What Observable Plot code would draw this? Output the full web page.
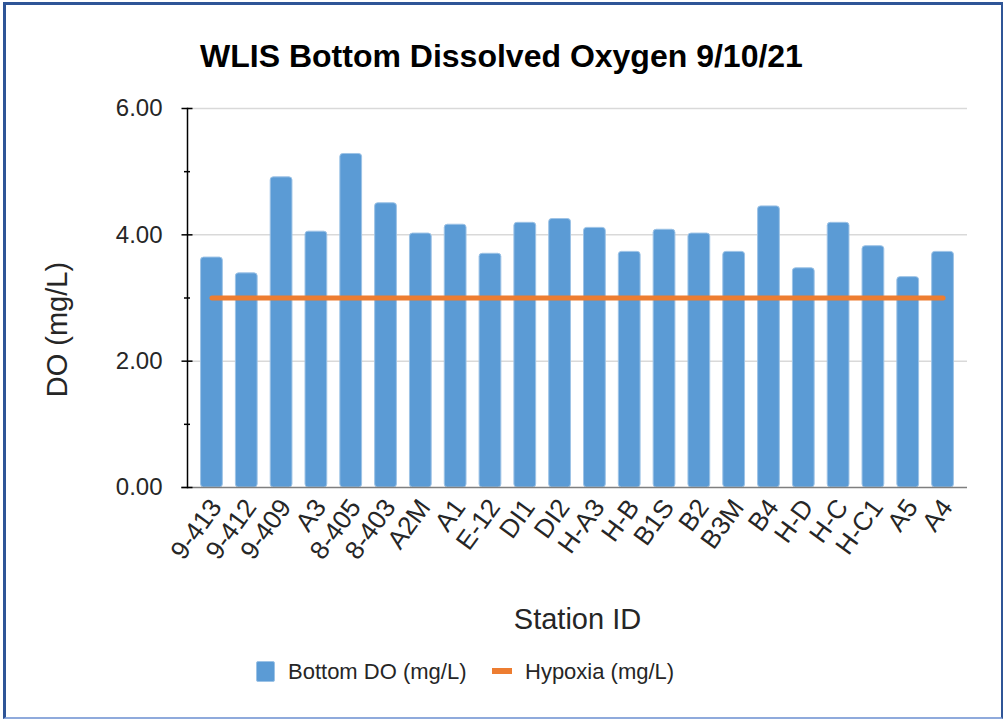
<!DOCTYPE html>
<html><head><meta charset="utf-8">
<script src="https://cdn.jsdelivr.net/npm/d3@7"></script>
<script src="https://cdn.jsdelivr.net/npm/@observablehq/plot@0.6"></script>
<style>
body{margin:0;background:#fff;font-family:"Liberation Sans",Arial,sans-serif;color:#222;}
#page{position:relative;width:1003px;height:719px;overflow:hidden;background:#fff;}
#frame{position:absolute;left:3px;top:2px;width:1000px;height:717px;box-sizing:border-box;border-left:3px solid #2F5597;border-top:3px solid #2F5597;border-right:2px solid #2F5597;border-bottom:2px solid #8FAADC;pointer-events:none;}
#title{position:absolute;left:0;top:40px;width:1003px;text-align:center;font-size:32px;line-height:32px;font-weight:bold;color:#000;white-space:nowrap;}
#chart{position:absolute;left:0;top:90px;}
.lg{position:absolute;font-size:22px;line-height:22px;color:#262626;white-space:nowrap;}
.sw{position:absolute;}
</style></head>
<body><div id="page">
<div id="title">WLIS Bottom Dissolved Oxygen 9/10/21</div>
<div id="chart"></div>
<div class="sw" style="left:256px;top:661px;width:19px;height:21px;background:#5B9BD5;border-radius:2px;box-sizing:border-box;border:1px solid #9DC3E6;"></div>
<div class="lg" style="left:288px;top:661px;">Bottom DO (mg/L)</div>
<div class="sw" style="left:492px;top:668px;width:20px;height:6px;background:#ED7D31;"></div>
<div class="lg" style="left:525px;top:661px;">Hypoxia (mg/L)</div>
<div id="frame"></div>
</div>
<script>
const stations = ["9-413","9-412","9-409","A3","8-405","8-403","A2M","A1","E-12","DI1","DI2","H-A3","H-B","B1S","B2","B3M","B4","H-D","H-C","H-C1","A5","A4"];
const bottomDO = [3.64,3.39,4.91,4.05,5.28,4.50,4.02,4.16,3.70,4.19,4.25,4.11,3.73,4.08,4.02,3.73,4.45,3.47,4.19,3.82,3.33,3.73];
const hypoxia = [3.00,3.00,3.00,3.00,3.00,3.00,3.00,3.00,3.00,3.00,3.00,3.00,3.00,3.00,3.00,3.00,3.00,3.00,3.00,3.00,3.00,3.00];
const yMajor = [0,2,4,6];
const yMinor = [1,3,5];
const yGrid = [2,4,6];
const yTitle = [{label:"DO (mg/L)", y:2.5}];
const xTitle = ["Station ID"];

const bars = stations.map((s,i)=>({station:s, value:bottomDO[i]}));
const hyp = stations.map((s,i)=>({station:s, value:hypoxia[i]}));

const chart = Plot.plot({
  width:1003, height:550,
  marginTop:18, marginBottom:153, marginLeft:187, marginRight:36,
  style:{fontFamily:"'Liberation Sans', Arial, sans-serif", fontSize:"24px", color:"#262626", background:"transparent"},
  x:{type:"band", domain:stations, paddingInner:0.375, paddingOuter:0.39, round:false, label:null},
  y:{domain:[0,6], label:null},
  marks:[
    Plot.gridY(yGrid, {stroke:"#d9d9d9", strokeOpacity:1, strokeWidth:1.5}),
    Plot.barY(bars, {x:"station", y:"value", fill:"#5B9BD5", stroke:"#9DC3E6", strokeWidth:1, rx:3}),
    Plot.ruleY([0], {stroke:"#7f7f7f", strokeWidth:1.5, insetLeft:-6}),
    Plot.frame({anchor:"left", stroke:"#000", strokeWidth:1.5}),
    Plot.axisY({ticks:yMajor, tickSize:11, dx:5.5, tickFormat:()=>"", stroke:"#000", strokeWidth:1.5}),
    Plot.axisY({ticks:yMinor, tickSize:6, dx:3, tickFormat:()=>"", stroke:"#000", strokeWidth:1.5}),
    Plot.axisY({ticks:yMajor, tickSize:0, tickPadding:25, tickFormat:d=>d.toFixed(2), fontSize:24, fill:"#262626"}),
    Plot.line(hyp, {x:"station", y:"value", stroke:"#ED7D31", strokeWidth:5}),
    Plot.axisX({tickSize:0, tickRotate:-54, tickPadding:15, dx:4, fontSize:26, fill:"#262626"}),
    Plot.text(xTitle, {frameAnchor:"bottom", dy:141, fontSize:29, fill:"#262626"}),
    Plot.text(yTitle, {y:"y", text:"label", frameAnchor:"left", textAnchor:"middle", dx:-130, rotate:-90, fontSize:29, fill:"#262626"})
  ]
});
document.getElementById("chart").appendChild(chart);
</script>
</body></html>
